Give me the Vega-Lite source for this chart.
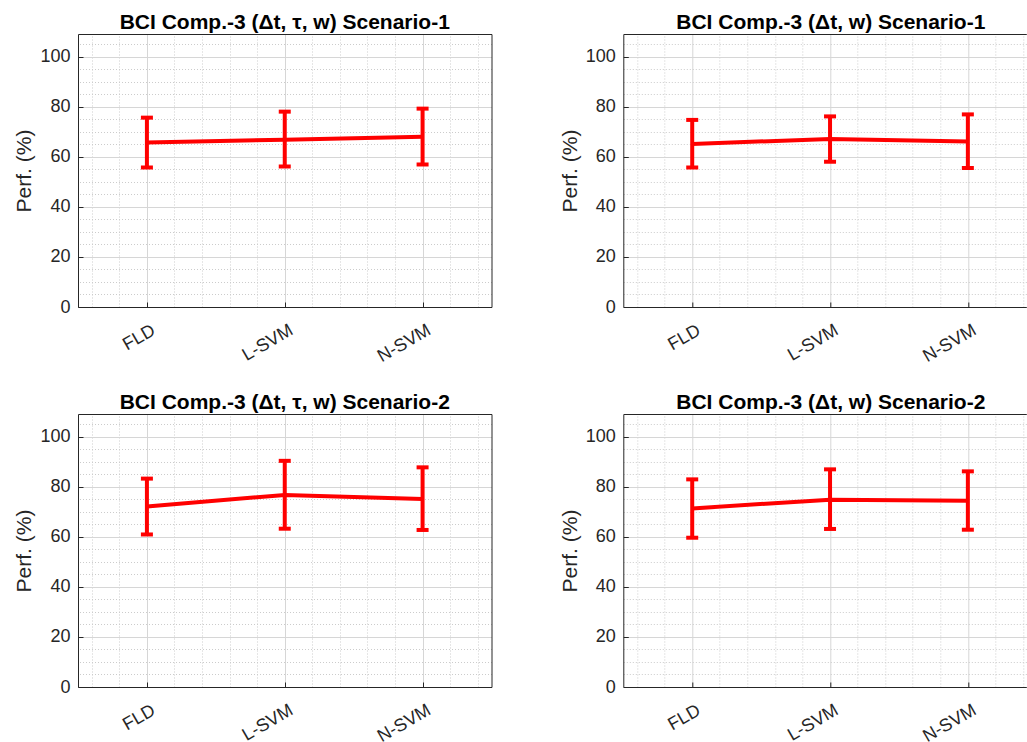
{
  "$schema": "https://vega.github.io/schema/vega-lite/v6.json",
  "padding": {"left": 13, "top": 12, "right": 0, "bottom": 0},
  "background": "white",
  "datasets": {
    "tl": [
      {"clf": "FLD", "x": 1, "mean": 65.7, "lo": 55.7, "hi": 75.6},
      {"clf": "L-SVM", "x": 2, "mean": 66.8, "lo": 56.1, "hi": 78.0},
      {"clf": "N-SVM", "x": 3, "mean": 68.0, "lo": 56.9, "hi": 79.2}
    ],
    "tr": [
      {"clf": "FLD", "x": 1, "mean": 65.1, "lo": 55.7, "hi": 74.7},
      {"clf": "L-SVM", "x": 2, "mean": 67.1, "lo": 58.0, "hi": 76.1},
      {"clf": "N-SVM", "x": 3, "mean": 66.1, "lo": 55.5, "hi": 76.9}
    ],
    "bl": [
      {"clf": "FLD", "x": 1, "mean": 72.1, "lo": 60.9, "hi": 83.2},
      {"clf": "L-SVM", "x": 2, "mean": 76.7, "lo": 63.2, "hi": 90.3},
      {"clf": "N-SVM", "x": 3, "mean": 75.1, "lo": 62.7, "hi": 87.7}
    ],
    "br": [
      {"clf": "FLD", "x": 1, "mean": 71.3, "lo": 59.6, "hi": 82.9},
      {"clf": "L-SVM", "x": 2, "mean": 74.8, "lo": 63.1, "hi": 86.9},
      {"clf": "N-SVM", "x": 3, "mean": 74.4, "lo": 62.8, "hi": 86.1}
    ]
  },
  "bounds": "flush",
  "columns": 2,
  "align": "each",
  "spacing": {"row": 107, "column": 131.3},
  "concat": [
    {
      "width": 413.5, "height": 273,
      "title": {"text": "BCI Comp.-3 (Δt, τ, w) Scenario-1"},
      "data": {"name": "tl"},
      "layer": [
        {"mark": {"type": "rule", "color": "#ff0000", "strokeWidth": 4},
         "encoding": {
           "x": {"field": "x", "type": "quantitative", "scale": {"domain": [0.5, 3.5], "nice": false, "zero": false},
                 "axis": {"orient": "bottom", "values": [1, 2, 3], "labelExpr": "datum.value == 1 ? 'FLD' : datum.value == 2 ? 'L-SVM' : 'N-SVM'", "labelAngle": -30, "labelAlign": "right", "labelBaseline": "top", "labelOffset": 2, "labelPadding": 19, "tickSize": -5, "grid": true, "title": null}},
           "y": {"field": "lo", "type": "quantitative", "scale": {"domain": [0, 109], "nice": false},
                 "axis": {"orient": "left", "values": [0, 20, 40, 60, 80, 100], "tickSize": -5, "labelPadding": 13, "grid": true, "title": "Perf. (%)"}},
           "y2": {"field": "hi"}}},
        {"mark": {"type": "line", "color": "#ff0000", "strokeWidth": 4},
         "encoding": {
           "x": {"field": "x", "type": "quantitative", "axis": {"orient": "top", "values": [0.6, 0.8, 1.2, 1.4, 1.6, 1.8, 2.2, 2.4, 2.6, 2.8, 3.2, 3.4], "labels": false, "ticks": false, "grid": true, "gridDash": [1, 2], "gridColor": "#cccccc", "title": null}},
           "y": {"field": "mean", "type": "quantitative", "axis": {"orient": "right", "values": [5, 10, 15, 25, 30, 35, 45, 50, 55, 65, 70, 75, 85, 90, 95, 105], "labels": false, "ticks": false, "grid": true, "gridDash": [1, 2], "gridColor": "#cccccc", "title": null}}}},
        {"mark": {"type": "tick", "color": "#ff0000", "thickness": 4, "size": 12, "orient": "horizontal", "opacity": 1},
         "encoding": {"x": {"field": "x", "type": "quantitative", "axis": null}, "y": {"field": "lo", "type": "quantitative", "axis": null}}},
        {"mark": {"type": "tick", "color": "#ff0000", "thickness": 4, "size": 12, "orient": "horizontal", "opacity": 1},
         "encoding": {"x": {"field": "x", "type": "quantitative", "axis": null}, "y": {"field": "hi", "type": "quantitative", "axis": null}}}
      ]
    },
    {
      "width": 403, "height": 273,
      "title": {"text": "BCI Comp.-3 (Δt, w) Scenario-1", "dx": 6},
      "data": {"name": "tr"},
      "layer": [
        {"mark": {"type": "rule", "color": "#ff0000", "strokeWidth": 4},
         "encoding": {
           "x": {"field": "x", "type": "quantitative", "scale": {"domain": [0.5, 3.424], "nice": false, "zero": false},
                 "axis": {"orient": "bottom", "values": [1, 2, 3], "labelExpr": "datum.value == 1 ? 'FLD' : datum.value == 2 ? 'L-SVM' : 'N-SVM'", "labelAngle": -30, "labelAlign": "right", "labelBaseline": "top", "labelOffset": 2, "labelPadding": 19, "tickSize": -5, "grid": true, "title": null}},
           "y": {"field": "lo", "type": "quantitative", "scale": {"domain": [0, 109], "nice": false},
                 "axis": {"orient": "left", "values": [0, 20, 40, 60, 80, 100], "tickSize": -5, "labelPadding": 13, "grid": true, "title": "Perf. (%)"}},
           "y2": {"field": "hi"}}},
        {"mark": {"type": "line", "color": "#ff0000", "strokeWidth": 4},
         "encoding": {
           "x": {"field": "x", "type": "quantitative", "axis": {"orient": "top", "values": [0.6, 0.8, 1.2, 1.4, 1.6, 1.8, 2.2, 2.4, 2.6, 2.8, 3.2, 3.4], "labels": false, "ticks": false, "grid": true, "gridDash": [1, 2], "gridColor": "#cccccc", "title": null}},
           "y": {"field": "mean", "type": "quantitative", "axis": {"orient": "right", "values": [5, 10, 15, 25, 30, 35, 45, 50, 55, 65, 70, 75, 85, 90, 95, 105], "labels": false, "ticks": false, "domain": false, "grid": true, "gridDash": [1, 2], "gridColor": "#cccccc", "title": null}}}},
        {"mark": {"type": "tick", "color": "#ff0000", "thickness": 4, "size": 12, "orient": "horizontal", "opacity": 1},
         "encoding": {"x": {"field": "x", "type": "quantitative", "axis": null}, "y": {"field": "lo", "type": "quantitative", "axis": null}}},
        {"mark": {"type": "tick", "color": "#ff0000", "thickness": 4, "size": 12, "orient": "horizontal", "opacity": 1},
         "encoding": {"x": {"field": "x", "type": "quantitative", "axis": null}, "y": {"field": "hi", "type": "quantitative", "axis": null}}}
      ]
    },
    {
      "width": 413.5, "height": 273,
      "title": {"text": "BCI Comp.-3 (Δt, τ, w) Scenario-2"},
      "data": {"name": "bl"},
      "layer": [
        {"mark": {"type": "rule", "color": "#ff0000", "strokeWidth": 4},
         "encoding": {
           "x": {"field": "x", "type": "quantitative", "scale": {"domain": [0.5, 3.5], "nice": false, "zero": false},
                 "axis": {"orient": "bottom", "values": [1, 2, 3], "labelExpr": "datum.value == 1 ? 'FLD' : datum.value == 2 ? 'L-SVM' : 'N-SVM'", "labelAngle": -30, "labelAlign": "right", "labelBaseline": "top", "labelOffset": 2, "labelPadding": 19, "tickSize": -5, "grid": true, "title": null}},
           "y": {"field": "lo", "type": "quantitative", "scale": {"domain": [0, 109], "nice": false},
                 "axis": {"orient": "left", "values": [0, 20, 40, 60, 80, 100], "tickSize": -5, "labelPadding": 13, "grid": true, "title": "Perf. (%)"}},
           "y2": {"field": "hi"}}},
        {"mark": {"type": "line", "color": "#ff0000", "strokeWidth": 4},
         "encoding": {
           "x": {"field": "x", "type": "quantitative", "axis": {"orient": "top", "values": [0.6, 0.8, 1.2, 1.4, 1.6, 1.8, 2.2, 2.4, 2.6, 2.8, 3.2, 3.4], "labels": false, "ticks": false, "grid": true, "gridDash": [1, 2], "gridColor": "#cccccc", "title": null}},
           "y": {"field": "mean", "type": "quantitative", "axis": {"orient": "right", "values": [5, 10, 15, 25, 30, 35, 45, 50, 55, 65, 70, 75, 85, 90, 95, 105], "labels": false, "ticks": false, "grid": true, "gridDash": [1, 2], "gridColor": "#cccccc", "title": null}}}},
        {"mark": {"type": "tick", "color": "#ff0000", "thickness": 4, "size": 12, "orient": "horizontal", "opacity": 1},
         "encoding": {"x": {"field": "x", "type": "quantitative", "axis": null}, "y": {"field": "lo", "type": "quantitative", "axis": null}}},
        {"mark": {"type": "tick", "color": "#ff0000", "thickness": 4, "size": 12, "orient": "horizontal", "opacity": 1},
         "encoding": {"x": {"field": "x", "type": "quantitative", "axis": null}, "y": {"field": "hi", "type": "quantitative", "axis": null}}}
      ]
    },
    {
      "width": 403, "height": 273,
      "title": {"text": "BCI Comp.-3 (Δt, w) Scenario-2", "dx": 6},
      "data": {"name": "br"},
      "layer": [
        {"mark": {"type": "rule", "color": "#ff0000", "strokeWidth": 4},
         "encoding": {
           "x": {"field": "x", "type": "quantitative", "scale": {"domain": [0.5, 3.424], "nice": false, "zero": false},
                 "axis": {"orient": "bottom", "values": [1, 2, 3], "labelExpr": "datum.value == 1 ? 'FLD' : datum.value == 2 ? 'L-SVM' : 'N-SVM'", "labelAngle": -30, "labelAlign": "right", "labelBaseline": "top", "labelOffset": 2, "labelPadding": 19, "tickSize": -5, "grid": true, "title": null}},
           "y": {"field": "lo", "type": "quantitative", "scale": {"domain": [0, 109], "nice": false},
                 "axis": {"orient": "left", "values": [0, 20, 40, 60, 80, 100], "tickSize": -5, "labelPadding": 13, "grid": true, "title": "Perf. (%)"}},
           "y2": {"field": "hi"}}},
        {"mark": {"type": "line", "color": "#ff0000", "strokeWidth": 4},
         "encoding": {
           "x": {"field": "x", "type": "quantitative", "axis": {"orient": "top", "values": [0.6, 0.8, 1.2, 1.4, 1.6, 1.8, 2.2, 2.4, 2.6, 2.8, 3.2, 3.4], "labels": false, "ticks": false, "grid": true, "gridDash": [1, 2], "gridColor": "#cccccc", "title": null}},
           "y": {"field": "mean", "type": "quantitative", "axis": {"orient": "right", "values": [5, 10, 15, 25, 30, 35, 45, 50, 55, 65, 70, 75, 85, 90, 95, 105], "labels": false, "ticks": false, "domain": false, "grid": true, "gridDash": [1, 2], "gridColor": "#cccccc", "title": null}}}},
        {"mark": {"type": "tick", "color": "#ff0000", "thickness": 4, "size": 12, "orient": "horizontal", "opacity": 1},
         "encoding": {"x": {"field": "x", "type": "quantitative", "axis": null}, "y": {"field": "lo", "type": "quantitative", "axis": null}}},
        {"mark": {"type": "tick", "color": "#ff0000", "thickness": 4, "size": 12, "orient": "horizontal", "opacity": 1},
         "encoding": {"x": {"field": "x", "type": "quantitative", "axis": null}, "y": {"field": "hi", "type": "quantitative", "axis": null}}}
      ]
    }
  ],
  "config": {
    "font": "Liberation Sans",
    "view": {"stroke": null},
    "title": {"fontSize": 21, "fontWeight": "bold", "color": "#000000", "offset": 1, "anchor": "middle"},
    "axis": {
      "domain": true, "domainColor": "#262626", "domainWidth": 1,
      "tickColor": "#262626", "tickWidth": 1,
      "labelFont": "Liberation Sans", "labelFontSize": 18, "labelColor": "#262626",
      "titleFont": "Liberation Sans", "titleFontSize": 21, "titleFontWeight": "normal", "titleColor": "#262626", "titlePadding": 5,
      "gridColor": "#d6d6d6", "gridWidth": 1
    }
  }
}
